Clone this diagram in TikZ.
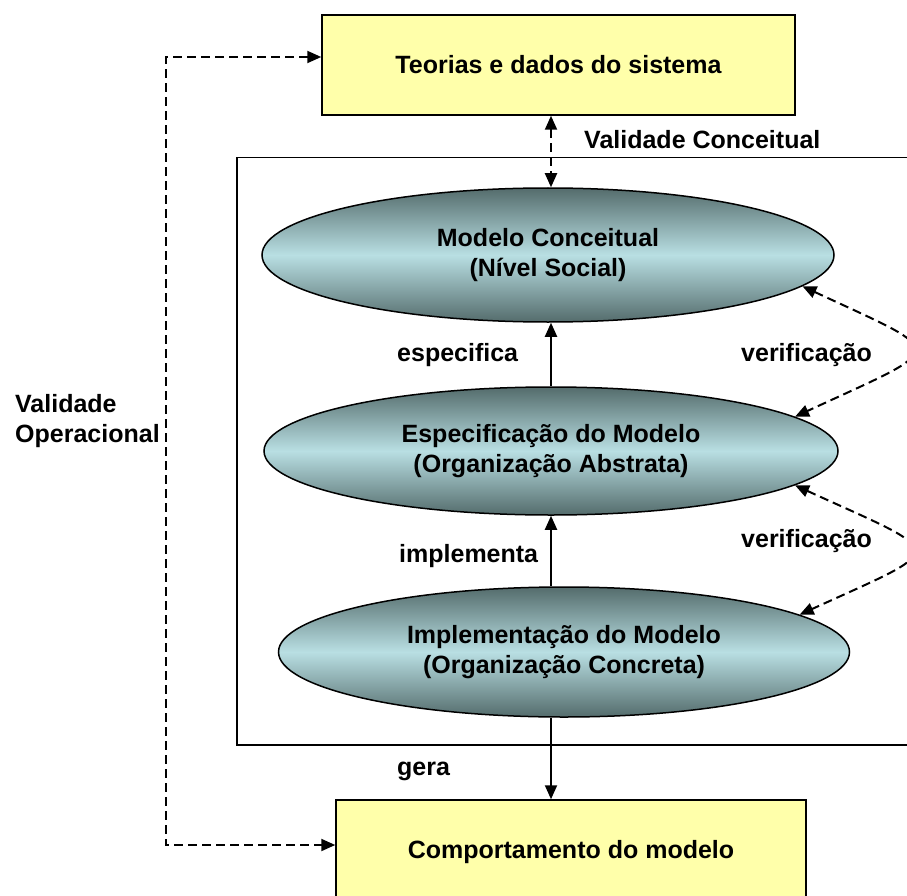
\documentclass[tikz,border=0pt]{standalone}
\usepackage{fontspec}
\setmainfont{Liberation Sans}
\usetikzlibrary{shapes.geometric,arrows.meta}
\definecolor{boxyellow}{RGB}{255,255,170}
\definecolor{elldark}{RGB}{84,108,108}
\definecolor{elllight}{RGB}{185,223,227}
\begin{document}
\begin{tikzpicture}[x=1pt,y=-1pt,
  every node/.style={font=\fontsize{25}{30}\selectfont\bfseries, text=black},
  ybox/.style={draw=black, line width=1.5pt, fill=boxyellow, rectangle, inner sep=0pt},
  ell/.style={ellipse, draw=black, line width=1.5pt, top color=elldark, bottom color=elldark, middle color=elllight, align=center, inner sep=0pt},
  frame/.style={draw=black, line width=1.5pt, rectangle, inner sep=0pt},
  lbl/.style={anchor=west, inner sep=0pt, align=left},
  solidarr/.style={line width=2pt, -{Triangle[length=14pt,width=12pt]}},
  dasharr/.style={line width=2pt, dash pattern=on 9pt off 5pt, {Triangle[length=14pt,width=12pt]}-{Triangle[length=14pt,width=12pt]}}
]
\clip (0,0) rectangle (907,896);
\fill[white] (0,0) rectangle (907,896);

% frame
\node[frame, anchor=north west, minimum width=700pt, minimum height=587pt] (frame) at (236,157) {};

% boxes
\node[ybox, minimum width=473pt, minimum height=100pt] (top) at (558.5,65) {Teorias e dados do sistema};
\node[ybox, minimum width=470pt, minimum height=104pt] (bot) at (571,852) {Comportamento do modelo};

% ellipses
\node[ell, minimum width=572pt, minimum height=134pt] (e1) at (548,255) {Modelo Conceitual\\(Nível Social)};
\node[ell, minimum width=574pt, minimum height=128pt] (e2) at (551,451) {Especificação do Modelo\\(Organização Abstrata)};
\node[ell, minimum width=571pt, minimum height=130pt] (e3) at (564,652) {Implementação do Modelo\\(Organização Concreta)};

% labels
\node[lbl] (lvc) at (584,140) {Validade Conceitual};
\node[lbl] (lesp) at (397,355) {especifica};
\node[lbl] (limp) at (399,556) {implementa};
\node[lbl] (lgera) at (397,771) {gera};
\node[lbl] (lver1) at (741,355) {verificação};
\node[lbl] (lver2) at (741,541) {verificação};
\node[lbl] (lvo) at (15,421) {Validade\\Operacional};

% solid arrows
\draw[solidarr] (e2.north) -- (e1.south -| e2.north);
\draw[solidarr] (e3.north -| e2.south) -- (e2.south);
\draw[solidarr] (e3.south -| e2.south) -- (bot.north -| e2.south);

% dashed arrows
\draw[dasharr] (top.south -| e2.south) -- (e1.north -| e2.south);

\coordinate (vo1) at (166,57);
\coordinate (vo2) at (166,845);
\draw[dasharr] (top.west |- vo1) -- (vo1) -- (vo2) -- (bot.west |- vo2);

\draw[dasharr] (e1.-7) .. controls (950,355) and (950,345) .. (e2.8);
\draw[dasharr] (e2.-8.5) .. controls (950,556) and (950,546) .. (e3.9);
\end{tikzpicture}
\end{document}
